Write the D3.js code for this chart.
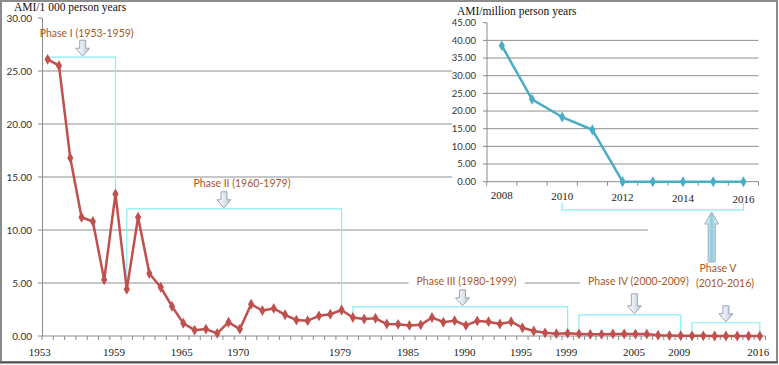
<!DOCTYPE html>
<meta charset="utf-8">
<script src="https://d3js.org/d3.v7.min.js"></script>
<style>
body { margin: 0; background: #fff; }
.serif { font-family: "Liberation Serif", "DejaVu Serif", serif; }
.sans { font-family: Lato, "Open Sans", sans-serif; }
.phase { fill: #a8581f; font-family: Lato, "Open Sans", sans-serif; font-size: 10.5px; }
</style>
<div id="chart"></div>
<script>

// main series: AMI per 1 000 person years, 1953-2016
const years = d3.range(1953, 2017);
const amiPer1000 = [26.1, 25.5, 16.8, 11.2, 10.8, 5.3, 13.4, 4.4, 11.2, 5.9,
  4.6, 2.8, 1.2, 0.55, 0.65, 0.25, 1.3, 0.65, 3.0, 2.4,
  2.6, 2.0, 1.5, 1.45, 1.9, 2.05, 2.45, 1.75, 1.6, 1.67,
  1.13, 1.1, 1.0, 1.05, 1.75, 1.3, 1.45, 1.0, 1.42, 1.35,
  1.13, 1.35, 0.78, 0.47, 0.3, 0.22, 0.25, 0.2, 0.16, 0.16,
  0.2, 0.2, 0.18, 0.18, 0.07, 0.04, 0.023, 0.018, 0.015, 0,
  0, 0, 0, 0];
const mainTickYears = [1953, 1959, 1965, 1970, 1979, 1985, 1990, 1995, 1999, 2005, 2009, 2016];
const mainYTicks = [0, 5, 10, 15, 20, 25, 30];

// inset series: AMI per million person years, 2008-2016
const insetYears = [2008, 2009, 2010, 2011, 2012, 2013, 2014, 2015, 2016];
const amiPerMillion = [38.5, 23.3, 18.3, 14.7, 0, 0, 0, 0, 0];
const insetTickYears = [2008, 2010, 2012, 2014, 2016];
const insetYTicks = [0, 5, 10, 15, 20, 25, 30, 35, 40, 45];

// phases
const phaseNames = ["Phase I (1953-1959)", "Phase II (1960-1979)", "Phase III (1980-1999)", "Phase IV (2000-2009)"];
const phaseStart = [1953, 1960, 1980, 2000, 2010];
const phaseEnd = [1959, 1979, 1999, 2009, 2016];
const bracketLevel = [26.3, 12.0, 2.75, 2.0, 1.25];   // top of each bracket, in AMI units
const arrowAt = [1956.1, 1968.6, 1989.7, 2004.9, 2013.0];
const labelLevel = [28.6, 14.4, 5.2, 5.2];

const W = 779, H = 365;
const svg = d3.select("#chart").append("svg").attr("width", W).attr("height", H);

const defs = svg.append("defs");
const g1 = defs.append("linearGradient").attr("id", "arrowFill").attr("x1", 0).attr("x2", 1).attr("y1", 0).attr("y2", 0);
g1.append("stop").attr("offset", "0%").attr("stop-color", "#ffffff");
g1.append("stop").attr("offset", "50%").attr("stop-color", "#e3e8f0");
g1.append("stop").attr("offset", "100%").attr("stop-color", "#b4bfcd");
const g2 = defs.append("linearGradient").attr("id", "arrowFill5").attr("x1", 0).attr("x2", 1).attr("y1", 0).attr("y2", 0);
g2.append("stop").attr("offset", "0%").attr("stop-color", "#ffffff");
g2.append("stop").attr("offset", "50%").attr("stop-color", "#8ccbdc");
g2.append("stop").attr("offset", "100%").attr("stop-color", "#ffffff");

// scales
const x = d3.scaleBand().domain(years).range([42, 765.5]);
const xc = yr => x(Math.floor(yr)) + x.bandwidth() / 2 + (yr - Math.floor(yr)) * x.bandwidth();
const y = d3.scaleLinear().domain([0, 30]).range([336, 18]);

const xi = d3.scaleBand().domain(insetYears).range([486.7, 758.5]);
const yi = d3.scaleLinear().domain([0, 45]).range([181.7, 22.7]);

const gridColor = "#8e8e8e", axisColor = "#8a8a8a";

// main gridlines
svg.append("g").selectAll("line").data(mainYTicks.filter(d => d > 0 && d < 30)).join("line")
  .attr("x1", 42).attr("x2", 765.5).attr("y1", d => y(d)).attr("y2", d => y(d))
  .attr("stroke", gridColor).attr("stroke-width", 1);

// main axes
svg.append("line").attr("x1", 42.5).attr("x2", 42.5).attr("y1", y(30)).attr("y2", y(0)).attr("stroke", axisColor);
svg.append("line").attr("x1", 42).attr("x2", 765.5).attr("y1", y(0)).attr("y2", y(0)).attr("stroke", axisColor);
svg.append("g").selectAll("line").data(mainYTicks).join("line")
  .attr("x1", 38).attr("x2", 42).attr("y1", d => y(d)).attr("y2", d => y(d)).attr("stroke", axisColor);
svg.append("g").selectAll("line").data(years.concat([2017])).join("line")
  .attr("x1", d => x(d) === undefined ? 765.5 : x(d)).attr("x2", d => x(d) === undefined ? 765.5 : x(d))
  .attr("y1", y(0)).attr("y2", y(0) + 4).attr("stroke", axisColor);

svg.append("g").selectAll("text").data(mainYTicks).join("text")
  .attr("class", "sans").attr("x", 32).attr("y", d => y(d)).attr("dy", "0.35em")
  .attr("text-anchor", "end").attr("font-size", 10).attr("fill", "#333")
  .text(d => d3.format(".2f")(d));
svg.append("g").selectAll("text").data(mainTickYears).join("text")
  .attr("class", "serif").attr("x", d => xc(d) - (d === 1953 ? 8 : 1.5)).attr("y", 356)
  .attr("text-anchor", "middle").attr("font-size", 11).attr("fill", "#222")
  .text(d => d);

svg.append("text").attr("class", "serif").attr("x", 14).attr("y", 11)
  .attr("font-size", 11.5).attr("fill", "#111").text("AMI/1 000 person years");

// phase brackets (main chart)
const cyan = "#86eef4";
phaseStart.forEach((s, i) => {
  const e = phaseEnd[i];
  const top = y(bracketLevel[i]);
  const vs = amiPer1000[years.indexOf(s)], ve = amiPer1000[years.indexOf(e)];
  const path = d3.path();
  path.moveTo(xc(s), i === 0 ? top : y(vs) - 2);
  path.lineTo(xc(s), top);
  path.lineTo(xc(e), top);
  path.lineTo(xc(e), y(ve) - 2);
  svg.append("path").attr("d", path.toString()).attr("fill", "none").attr("stroke", cyan).attr("stroke-width", 1.2);
});

// white boxes behind the lower labels
const labelG = svg.append("g");

// main series
const line = d3.line().x((d, i) => xc(years[i])).y(d => y(d));
svg.append("path").datum(amiPer1000).attr("d", line).attr("fill", "none")
  .attr("stroke", "#c0504d").attr("stroke-width", 2.5).attr("stroke-linejoin", "round");
svg.append("g").selectAll("path").data(amiPer1000).join("path")
  .attr("d", d3.symbol(d3.symbolDiamond, 34))
  .attr("transform", (d, i) => `translate(${xc(years[i])},${y(d)})`)
  .attr("fill", "#c0504d");

// phase labels and arrows
function downArrow(cx, y0, y1, fillId) {
  const sw = 3, hw = 7, hh = 8;
  const p = `M${cx - sw},${y0} L${cx + sw},${y0} L${cx + sw},${y1 - hh} L${cx + hw},${y1 - hh} L${cx},${y1} L${cx - hw},${y1 - hh} L${cx - sw},${y1 - hh} Z`;
  svg.append("path").attr("d", p).attr("fill", `url(#${fillId})`).attr("stroke", "#9aa6b8").attr("stroke-width", 1);
}
function upArrow(cx, y0, y1, fillId) {
  const sw = 3.5, hw = 7, hh = 12;
  const p = `M${cx - sw},${y0} L${cx + sw},${y0} L${cx + sw},${y1 + hh} L${cx + hw},${y1 + hh} L${cx},${y1} L${cx - hw},${y1 + hh} L${cx - sw},${y1 + hh} Z`;
  svg.append("path").attr("d", p).attr("fill", `url(#${fillId})`).attr("stroke", "#9fadbf").attr("stroke-width", 1);
}

phaseNames.forEach((name, i) => {
  const cx = xc(arrowAt[i]);
  const t = svg.append("text").attr("class", "phase")
    .attr("x", (i === 1 ? xc(arrowAt[i]) + 14 : cx) + 4).attr("y", y(labelLevel[i])).attr("dy", "0.35em")
    .attr("text-anchor", "middle").text(name);
  if (i >= 2) {
    const bb = t.node().getBBox();
    labelG.append("rect").attr("x", bb.x - 8).attr("y", bb.y).attr("width", bb.width + 16)
      .attr("height", bb.height).attr("fill", "#fff");
  }
  const top = y(bracketLevel[i]);
  downArrow(cx, top - (i === 3 ? 21 : 17), top - 1, "arrowFill");
});
downArrow(xc(arrowAt[4]), y(bracketLevel[4]) - 17, y(bracketLevel[4]) - 1, "arrowFill");

// phase V label area (white box over gridlines)
labelG.append("rect").attr("x", 648).attr("y", 214).attr("width", 128).attr("height", 46).attr("fill", "#fff");
labelG.append("rect").attr("x", 690).attr("y", 260).attr("width", 86).attr("height", 32).attr("fill", "#fff");
svg.append("text").attr("class", "phase").attr("x", 718).attr("y", 268).attr("dy", "0.35em")
  .attr("text-anchor", "middle").text("Phase V");
svg.append("text").attr("class", "phase").attr("x", 725).attr("y", 283).attr("dy", "0.35em")
  .attr("text-anchor", "middle").text("(2010-2016)");

// inset
const inset = svg.append("g");
inset.append("rect").attr("x", 452).attr("y", 2).attr("width", 324).attr("height", 211).attr("fill", "#fff");
inset.append("g").selectAll("line").data(insetYTicks.filter(d => d > 0 && d < 45)).join("line")
  .attr("x1", 486.7).attr("x2", 758.5).attr("y1", d => yi(d)).attr("y2", d => yi(d))
  .attr("stroke", gridColor);
inset.append("line").attr("x1", 487).attr("x2", 487).attr("y1", yi(45)).attr("y2", yi(0)).attr("stroke", axisColor);
inset.append("line").attr("x1", 486.7).attr("x2", 758.5).attr("y1", yi(0)).attr("y2", yi(0)).attr("stroke", axisColor);
inset.append("g").selectAll("line").data(insetYTicks).join("line")
  .attr("x1", 483).attr("x2", 487).attr("y1", d => yi(d)).attr("y2", d => yi(d)).attr("stroke", axisColor);
inset.append("g").selectAll("line").data(insetYears.concat([2017])).join("line")
  .attr("x1", d => xi(d) === undefined ? 758.5 : xi(d)).attr("x2", d => xi(d) === undefined ? 758.5 : xi(d))
  .attr("y1", yi(0)).attr("y2", yi(0) + 4).attr("stroke", axisColor);
inset.append("g").selectAll("text").data(insetYTicks).join("text")
  .attr("class", "sans").attr("x", 476).attr("y", d => yi(d)).attr("dy", "0.35em")
  .attr("text-anchor", "end").attr("font-size", 9.5).attr("fill", "#333")
  .text(d => d3.format(".2f")(d));
inset.append("g").selectAll("text").data(insetTickYears).join("text")
  .attr("class", "serif").attr("x", d => xi(d) + xi.bandwidth() / 2).attr("y", (d, i) => 199 + i * 0.9)
  .attr("text-anchor", "middle").attr("font-size", 11).attr("fill", "#222").text(d => d);
inset.append("text").attr("class", "serif").attr("x", 457).attr("y", 15)
  .attr("font-size", 11.5).attr("fill", "#111").text("AMI/million person years");

const iline = d3.line().x((d, i) => xi(insetYears[i]) + xi.bandwidth() / 2).y(d => yi(d));
inset.append("path").datum(amiPerMillion).attr("d", iline).attr("fill", "none")
  .attr("stroke", "#4bacc6").attr("stroke-width", 2.5).attr("stroke-linejoin", "round");
inset.append("g").selectAll("path").data(amiPerMillion).join("path")
  .attr("d", d3.symbol(d3.symbolDiamond, 34))
  .attr("transform", (d, i) => `translate(${xi(insetYears[i]) + xi.bandwidth() / 2},${yi(d)})`)
  .attr("fill", "#4bacc6");

// inset bracket for 2010-2016 and phase V up arrow
const bx0 = xi(2010) + xi.bandwidth() / 2, bx1 = xi(2016) + xi.bandwidth() / 2;
inset.append("path").attr("d", `M${bx0},${yi(-6)} L${bx0},${yi(-8)} L${bx1},${yi(-8)} L${bx1},${yi(-6)}`)
  .attr("fill", "none").attr("stroke", cyan).attr("stroke-width", 1.2);
upArrow(711.7, 262, 212, "arrowFill5");

// frame
svg.append("rect").attr("x", 1).attr("y", 1).attr("width", 776).attr("height", 361)
  .attr("fill", "none").attr("stroke", "#8c8c8c").attr("stroke-width", 2);
svg.append("line").attr("x1", 0).attr("x2", 778).attr("y1", 362.5).attr("y2", 362.5)
  .attr("stroke", "#555").attr("stroke-width", 2);

</script>
